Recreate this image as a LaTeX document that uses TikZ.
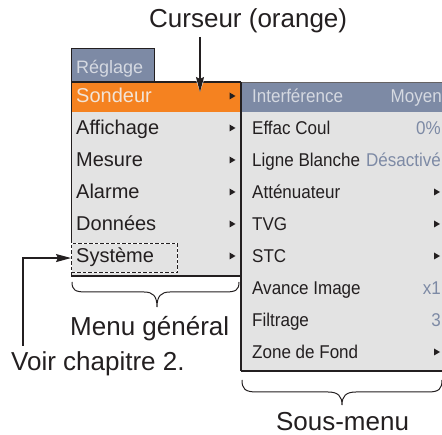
\documentclass[tikz,border=0pt]{standalone}
\usepackage{fontspec}
\setmainfont{Liberation Sans}
\newfontfamily\narrowsans{Liberation Sans}[FakeStretch=0.92]
\usetikzlibrary{arrows.meta}
\definecolor{ink}{HTML}{231F20}
\definecolor{menubg}{HTML}{E3E3E3}
\definecolor{cursorc}{HTML}{F58220}
\definecolor{slate}{HTML}{7D8AA5}
\definecolor{hdrtxt}{HTML}{D5D9E1}
\definecolor{seltxt}{HTML}{F2E4D8}
\begin{document}
\begin{tikzpicture}[x=1pt,y=-1pt,
  item/.style={anchor=base west, inner sep=0pt, text=ink, font=\fontsize{20}{24}\selectfont},
  subitem/.style={anchor=base west, inner sep=0pt, text=ink, font=\narrowsans\fontsize{18.5}{22}\selectfont},
  valr/.style={anchor=base east, inner sep=0pt, text=slate, font=\narrowsans\fontsize{18.5}{22}\selectfont},
  biglabel/.style={anchor=base west, inner sep=0pt, text depth=0pt, text=ink, font=\fontsize{26}{30}\selectfont},
  thinb/.style={draw=ink, line width=0.8pt},
  thickb/.style={draw=ink, line width=1.7pt},
  bracestyle/.style={draw=ink, line width=1pt},
  conn/.style={draw=ink, line width=1.3pt, -{Stealth[length=15pt,width=8pt,inset=2pt]}},
  tri/.pic={\fill[ink] (-3,-3.5) -- (3,0) -- (-3,3.5) -- cycle;}
]
\useasboundingbox (0,0) rectangle (442,435);
\clip (0,0) rectangle (442,435);

% ---- backgrounds
\fill[menubg] (71,82) rectangle (241,276);
\fill[cursorc] (71,82) rectangle (241,112);
\fill[menubg] (241,82) rectangle (460,371);
\fill[slate] (241,82) rectangle (460,112);
\filldraw[fill=slate, thinb] (71,82) -- (71,48) -- (154,48) -- (154,82);

% ---- borders
\draw[thinb] (71,48) -- (71,276);
\draw[thickb] (71,82) -- (241,82);
\draw[draw=ink!70, line width=0.8pt] (241,82) -- (460,82);
\draw[thickb] (241,82) -- (241,371);
\draw[thickb] (71,276) -- (241,276);
\draw[thickb] (241,371) -- (460,371);

% ---- tab
\node[item, text=hdrtxt, font=\fontsize{18}{22}\selectfont] (reglage) at (76,73.5) {Réglage};

% ---- main menu
\node[item, text=seltxt] (sondeur) at (76,103) {Sondeur};
\node[item] (affichage) at (76,135) {Affichage};
\node[item] (mesure) at (76,167) {Mesure};
\node[item] (alarme) at (76,199) {Alarme};
\node[item] (donnees) at (76,231) {Données};
\node[item] (systeme) at (76,263) {Système};
\foreach \i in {0,...,5} { \pic at (232.5,96+32*\i) {tri}; }
\node[anchor=north west, inner sep=0pt, minimum width=106pt, minimum height=29pt,
      draw=ink, line width=1.1pt, dash pattern=on 3.5pt off 2pt,
      preaction={draw=white, line width=1.1pt, solid}] (sys) at (71,243) {};

% ---- sub menu
\node[subitem, text=hdrtxt] (interf) at (252,103) {Interférence};
\node[valr, text=hdrtxt] (moyen) at (442,103) {Moyen};
\node[subitem] (effac) at (252,135) {Effac Coul};
\node[valr] (zero) at (441,135) {0\%};
\node[subitem] (ligne) at (252,167) {Ligne Blanche};
\node[valr] (desact) at (441,167) {Désactivé};
\node[subitem] (atten) at (252,199) {Atténuateur};
\node[subitem] (tvg) at (252,231) {TVG};
\node[subitem] (stc) at (252,263) {STC};
\node[subitem] (avance) at (252,295) {Avance Image};
\node[valr] (xone) at (441,295) {x1};
\node[subitem] (filtr) at (252,327) {Filtrage};
\node[valr] (three) at (441,327) {3};
\node[subitem] (zone) at (252,359) {Zone de Fond};
\foreach \i in {3,4,5,8} { \pic at (437,96+32*\i) {tri}; }

% ---- braces
\draw[bracestyle] (72,282) .. controls (72,290) and (75,292) .. (86,292)
  -- (144,292) .. controls (153,292) and (157,296) .. (157,307)
  .. controls (157,296) and (161,292) .. (170,292)
  -- (225,292) .. controls (236,292) and (239,290) .. (239,282);
\draw[bracestyle] (242,380) .. controls (242,389) and (245,392) .. (257,392)
  -- (328,392) .. controls (338,392) and (342,396) .. (342,405)
  .. controls (342,396) and (346,392) .. (356,392)
  -- (428,392) .. controls (439,392) and (442,389) .. (442,380);

% ---- labels
\node[biglabel] (curseur) at (149,28) {Curseur (orange)};
\node[biglabel] (menug) at (70,336) {Menu général};
\node[biglabel] (voir) at (11,371) {Voir chapitre 2.};
\node[biglabel, anchor=base] (sousm) at (342.5,431) {Sous-menu};

% ---- connectors
\coordinate (ctop) at (200,37);
\coordinate (ctip) at (200,92);
\draw[draw=white, line width=3pt, -{Stealth[length=17pt,width=11pt,inset=2pt]}] (ctop) -- (ctip);
\draw[conn] (ctop) -- (ctip);
\coordinate (vstart) at (23,346);
\draw[conn] (vstart) |- (sys.west);
\end{tikzpicture}
\end{document}
